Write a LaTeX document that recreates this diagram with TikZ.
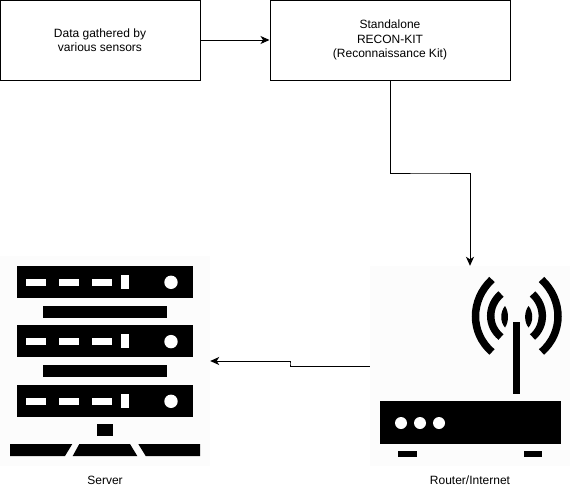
\documentclass[tikz,border=0pt]{standalone}
\usepackage{fontspec}
\setmainfont{Liberation Sans}
\usepackage{tikz}
\usetikzlibrary{arrows.meta,positioning}
\definecolor{iconbg}{HTML}{FCFCFC}

\begin{document}
\begin{tikzpicture}[x=1pt,y=-1pt]
		\tikzstyle{Box}		= [rectangle, draw, fill=white, line width=1pt, minimum width=200pt, minimum height=80pt, inner sep=0pt, align=center, font=\fontsize{12}{14.4}\selectfont]
		\tikzstyle{Icon}	= [rectangle, fill=iconbg, minimum width=200pt, minimum height=200pt, inner sep=0pt]
		\tikzstyle{Caption}	= [inner sep=0pt, font=\fontsize{12}{14.4}\selectfont]
		\tikzstyle{Wire}	= [line width=1pt, -{Stealth[length=9pt,width=8pt,inset=2.5pt]}]
		\tikzstyle{Solid}	= [fill=black]
		\tikzstyle{Slot}	= [fill=white]
		\tikzstyle{Wave}	= [line width=7.5pt, line cap=butt]

		\useasboundingbox (0,0) rectangle (571,490);

		\node (data) at (100,40) [Box] {Data gathered by\\various sensors};
		\node (kit) at (390,40) [Box, minimum width=240pt] {Standalone\\RECON-KIT\\(Reconnaissance Kit)};
		\node (server) at (105,361) [Icon, minimum width=210pt, minimum height=210pt] {};
		\node (router) at (470,366) [Icon] {};
		\node (serverlabel) at (105,480) [Caption] {Server};
		\node (routerlabel) at (470,480) [Caption] {Router/Internet};

		\coordinate (bend) at (430,173);
		\coordinate (jog) at (290,363.5);

		% server racks
		\foreach \y in {266,325.3,385} {
			\fill [Solid] (17,\y) rectangle (193,\y+32);
			\foreach \x in {26,59,92} {
				\fill [Slot] (\x,\y+13) rectangle (\x+20,\y+20);
			}
			\fill [Slot] (121,\y+9) rectangle (129,\y+23);
			\fill [Slot] (171,\y+16.3) circle (6.7);
		}
		\fill [Solid] (43,306) rectangle (167,318);
		\fill [Solid] (43,365) rectangle (167,377);
		\fill [Solid] (97,424) rectangle (113,436);
		\fill [Solid] (10,444) -- (72.3,444) -- (65,456) -- (10,456) -- cycle;
		\fill [Solid] (79.3,444) -- (130,444) -- (137.3,456) -- (72.7,456) -- cycle;
		\fill [Solid] (138.3,444) -- (200,444) -- (200,456) -- (145.7,456) -- cycle;

		% router
		\fill [Solid] (380,401) rectangle (561,444);
		\foreach \x in {401,420,439} {
			\fill [Slot] (\x,423) circle (6);
		}
		\fill [Solid] (398,451) rectangle (417,457);
		\fill [Solid] (524,451) rectangle (542,457);
		\fill [Solid] (513,322) rectangle (520,394);

		% antenna waves
		\draw [Wave] (492,279.5) .. controls (470,300) and (470,333) .. (492,352);
		\draw [Wave] (501,294) .. controls (487.3,306) and (487.3,326) .. (501,337);
		\draw [Wave] (541.5,279.5) .. controls (563.5,300) and (563.5,333) .. (541.5,352);
		\draw [Wave] (532.5,294) .. controls (545.6,306) and (545.6,326) .. (532.5,337);
		\fill [Solid] (505,306) .. controls (500,312) and (500,322) .. (505,327.5) .. controls (509,322) and (509,312) .. (505,306) -- cycle;
		\fill [Solid] (528.5,306) .. controls (533.5,312) and (533.5,322) .. (528.5,327.5) .. controls (524,322) and (524,312) .. (528.5,306) -- cycle;

		\draw [Wire] (data) to (kit);
		\draw [Wire] (kit.south) |- (bend) -| (router.north);
		\draw [Wire] (router.west) -| (jog) |- (server.east);
	\end{tikzpicture}
\end{document}
